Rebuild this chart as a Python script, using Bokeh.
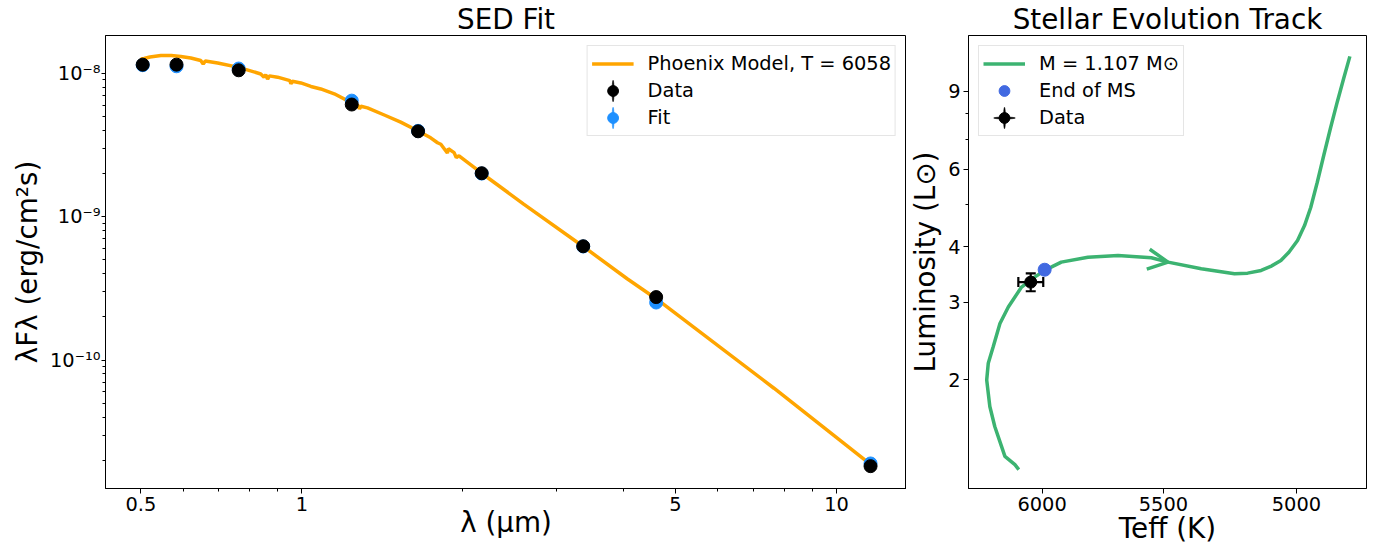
import math
from bokeh.plotting import figure
from bokeh.layouts import row
from bokeh.models import (Range1d, FixedTicker, CustomJSTickFormatter, Legend, LegendItem,
                          Arrow, OpenHead, Whisker, TeeHead, ColumnDataSource)
from bokeh.core.properties import value
from bokeh.embed import file_html
from bokeh.resources import INLINE

FONT = "DejaVu Sans"
TICK_SIZE = "19.4px"
BIG_SIZE = "27.8px"

# ---------------- SED data ----------------
band_wl = [0.504, 0.583, 0.762, 1.24, 1.65, 2.17, 3.36, 4.60, 11.58]
data_flux = [1.15e-8, 1.15e-8, 1.05e-8, 6.06e-9, 3.94e-9, 2.01e-9, 6.22e-10, 2.75e-10, 1.82e-11]
fit_flux = [1.14e-8, 1.12e-8, 1.08e-8, 6.45e-9, 3.97e-9, 2.00e-9, 6.20e-10, 2.52e-10, 1.90e-11]

model_wl = [0.500, 0.507, 0.520, 0.545, 0.570, 0.594, 0.620, 0.647, 0.654, 0.660, 0.696,
            0.762, 0.838, 0.850, 0.856, 0.863, 0.870, 0.901, 0.950, 0.954, 0.960, 0.996,
            1.040, 1.085, 1.150, 1.240, 1.275, 1.282, 1.290, 1.327, 1.430, 1.531, 1.650,
            1.742, 1.794, 1.820, 1.872, 1.880, 1.927, 1.945, 1.968, 2.170, 2.600, 3.360,
            4.060, 4.600, 7.640, 11.58]
model_flux = [1.26e-8, 1.27e-8, 1.30e-8, 1.33e-8, 1.33e-8, 1.31e-8, 1.28e-8, 1.23e-8, 1.16e-8,
              1.22e-8, 1.18e-8, 1.10e-8, 9.9e-9, 9.4e-9, 9.8e-9, 9.1e-9, 9.6e-9, 9.4e-9,
              8.9e-9, 8.45e-9, 8.8e-9, 8.57e-9, 8.1e-9, 7.78e-9, 7.2e-9, 6.22e-9, 5.95e-9,
              5.65e-9, 5.9e-9, 5.74e-9, 5.1e-9, 4.57e-9, 3.96e-9, 3.55e-9, 3.28e-9, 3.20e-9,
              2.78e-9, 2.98e-9, 2.80e-9, 2.58e-9, 2.66e-9, 2.01e-9, 1.225e-9, 6.2e-10,
              3.69e-10, 2.68e-10, 6.36e-11, 1.87e-11]

SED_XRANGE = (0.4294, 13.52)
SED_YRANGE = (1.271e-11, 1.836e-8)
SED_XTICKS = [0.5, 1, 5, 10]
SED_XTICK_LABELS = ["0.5", "1", "5", "10"]
SED_XMINOR = [0.6, 0.7, 0.8, 0.9, 2, 3, 4, 6, 7, 8, 9]
SED_YTICKS = [1e-10, 1e-9, 1e-8]
SED_YTICK_LABELS = ["10\u207b\u00b9\u2070", "10\u207b\u2079", "10\u207b\u2078"]
SED_YMINOR = [2e-11, 3e-11, 4e-11, 5e-11, 6e-11, 7e-11, 8e-11, 9e-11,
              2e-10, 3e-10, 4e-10, 5e-10, 6e-10, 7e-10, 8e-10, 9e-10,
              2e-9, 3e-9, 4e-9, 5e-9, 6e-9, 7e-9, 8e-9, 9e-9]

# ---------------- Evolution track data ----------------
track_T = [6101, 6118, 6162, 6177, 6207, 6229, 6243, 6236, 6214, 6184, 6147, 6089, 6032, 5989,
           5918, 5806, 5682, 5548, 5482, 5353, 5227, 5178, 5128, 5093, 5056, 5027, 4996, 4971,
           4949, 4926, 4902, 4879, 4855, 4833, 4812]
track_L = [1.254, 1.287, 1.344, 1.415, 1.570, 1.742, 2.000, 2.182, 2.377, 2.685, 2.926, 3.245,
           3.418, 3.539, 3.695, 3.792, 3.825, 3.780, 3.695, 3.570, 3.478, 3.489, 3.539, 3.613,
           3.727, 3.891, 4.135, 4.470, 4.913, 5.594, 6.481, 7.440, 8.545, 9.644, 10.79]
ms_end_T = [5989]
ms_end_L = [3.552]
star_T = [6049]
star_T_err = [54]
star_L = [3.330]
star_L_err = [0.155]
arrow_T = [5561, 5482]
arrow_L = [3.753, 3.695]

HR_XRANGE = (6325, 4755)
HR_YRANGE = (1.1366, 12.03)
HR_XTICKS = [6000, 5500, 5000]
HR_XTICK_LABELS = ["6000", "5500", "5000"]
HR_YTICKS = [2, 3, 4, 6, 9]
HR_YTICK_LABELS = ["2", "3", "4", "6", "9"]
HR_YMINOR = [5, 7, 8]

ORANGE = "#FFA500"
FITBLUE = "#1E90FF"
GREEN = "#3CB371"
ROYAL = "#4169E1"

NAN = [float("nan")]


def lookup_formatter(tick_values, tick_labels):
    return CustomJSTickFormatter(args=dict(tv=tick_values, tl=tick_labels), code="""
        for (let i = 0; i < tv.length; i++) {
            if (Math.abs(tv[i] - tick) <= 1e-6 * Math.abs(tv[i])) { return tl[i]; }
        }
        return "";
    """)


def style_axis(ax, label, tick_out=5, standoff=3, label_standoff=3):
    ax.axis_line_color = "black"
    ax.axis_line_width = 1
    ax.major_tick_line_color = "black"
    ax.major_tick_line_width = 1
    ax.minor_tick_line_color = "black"
    ax.minor_tick_line_width = 1
    ax.major_tick_in = 0
    ax.major_tick_out = tick_out
    ax.minor_tick_in = 0
    ax.minor_tick_out = 3
    ax.major_label_text_font = FONT
    ax.major_label_text_font_size = TICK_SIZE
    ax.major_label_text_color = "black"
    ax.major_label_standoff = standoff
    ax.axis_label = label
    ax.axis_label_text_font = FONT
    ax.axis_label_text_font_size = BIG_SIZE
    ax.axis_label_text_font_style = "normal"
    ax.axis_label_text_color = "black"
    ax.axis_label_standoff = label_standoff


def base_style(p, title):
    p.xgrid.visible = False
    p.ygrid.visible = False
    p.outline_line_color = "black"
    p.outline_line_width = 1
    p.outline_line_alpha = 1
    p.background_fill_color = "white"
    p.border_fill_color = "white"
    p.title.text = title
    p.title.align = "center"
    p.title.text_font = FONT
    p.title.text_font_size = BIG_SIZE
    p.title.text_font_style = "normal"
    p.title.text_color = "black"
    p.title.standoff = 0
    p.title.offset = 0


def make_legend(items, location):
    return Legend(items=items, location=location, margin=10, padding=4, spacing=0,
                  glyph_height=27, label_height=27, glyph_width=42, label_standoff=14,
                  label_text_font=FONT, label_text_font_size=TICK_SIZE, label_text_color="black",
                  border_line_color="#cccccc", border_line_width=1, background_fill_color="white",
                  background_fill_alpha=0.8)


# ================= SED figure =================
p1 = figure(width=906, height=547, x_axis_type="log", y_axis_type="log",
            x_range=Range1d(*SED_XRANGE), y_range=Range1d(*SED_YRANGE),
            output_backend="svg", toolbar_location=None,
            min_border_left=105, min_border_right=0, min_border_top=34, min_border_bottom=58)
base_style(p1, "SED Fit")
p1.xaxis.ticker = FixedTicker(ticks=SED_XTICKS, minor_ticks=SED_XMINOR)
p1.xaxis.formatter = lookup_formatter(SED_XTICKS, SED_XTICK_LABELS)
p1.yaxis.ticker = FixedTicker(ticks=SED_YTICKS, minor_ticks=SED_YMINOR)
p1.yaxis.formatter = lookup_formatter(SED_YTICKS, SED_YTICK_LABELS)
style_axis(p1.xaxis[0], "\u03bb (\u03bcm)", tick_out=5, standoff=3, label_standoff=-8)
style_axis(p1.yaxis[0], "\u03bbF\u03bb (erg/cm\u00b2s)", tick_out=4, standoff=1, label_standoff=3)

r_model = p1.line(model_wl, model_flux, line_color=ORANGE, line_width=3.5)
r_fit = p1.scatter(band_wl, fit_flux, size=13, marker="circle", fill_color=FITBLUE, line_color=FITBLUE)
r_data = p1.scatter(band_wl, data_flux, size=13, marker="circle", fill_color="black", line_color="black")
# legend-only error-bar proxies (not drawn in the plot area)
r_data_bar = p1.ellipse(x=NAN, y=NAN, width=2, height=22, width_units="screen", height_units="screen",
                        fill_color="black", line_color="black", line_width=0.5)
r_fit_bar = p1.ellipse(x=NAN, y=NAN, width=2, height=22, width_units="screen", height_units="screen",
                       fill_color=FITBLUE, line_color=FITBLUE, line_width=0.5)

p1.add_layout(make_legend([
    LegendItem(label=value("Phoenix Model, T = 6058"), renderers=[r_model]),
    LegendItem(label=value("Data"), renderers=[r_data_bar, r_data]),
    LegendItem(label=value("Fit"), renderers=[r_fit_bar, r_fit]),
], "top_right"))

# ================= HR figure =================
p2 = figure(width=473, height=547, x_axis_type="log", y_axis_type="log",
            x_range=Range1d(*HR_XRANGE), y_range=Range1d(*HR_YRANGE),
            output_backend="svg", toolbar_location=None,
            min_border_left=61, min_border_right=13, min_border_top=34, min_border_bottom=58)
base_style(p2, "Stellar Evolution Track")
p2.xaxis.ticker = FixedTicker(ticks=HR_XTICKS, minor_ticks=[])
p2.xaxis.formatter = lookup_formatter(HR_XTICKS, HR_XTICK_LABELS)
p2.yaxis.ticker = FixedTicker(ticks=HR_YTICKS, minor_ticks=HR_YMINOR)
p2.yaxis.formatter = lookup_formatter(HR_YTICKS, HR_YTICK_LABELS)
style_axis(p2.xaxis[0], "Teff (K)", tick_out=5, standoff=3, label_standoff=-2)
style_axis(p2.yaxis[0], "Luminosity (L\u2299)", tick_out=5, standoff=3, label_standoff=3)

r_track = p2.line(track_T, track_L, line_color=GREEN, line_width=3.5)
p2.add_layout(Arrow(end=OpenHead(size=20, line_color=GREEN, line_width=3.5),
                    x_start=arrow_T[0], y_start=arrow_L[0], x_end=arrow_T[1], y_end=arrow_L[1],
                    line_alpha=0, line_width=0))
r_ms = p2.scatter(ms_end_T, ms_end_L, size=13, marker="circle", fill_color=ROYAL, line_color=ROYAL)

star_src = ColumnDataSource(dict(
    T=star_T, L=star_L,
    T_lo=[t - e for t, e in zip(star_T, star_T_err)], T_hi=[t + e for t, e in zip(star_T, star_T_err)],
    L_lo=[l - e for l, e in zip(star_L, star_L_err)], L_hi=[l + e for l, e in zip(star_L, star_L_err)],
))
r_star = p2.scatter("T", "L", source=star_src, size=12, marker="circle", fill_color="black", line_color="black")
for base, lo, hi, dim in (("L", "T_lo", "T_hi", "width"), ("T", "L_lo", "L_hi", "height")):
    p2.add_layout(Whisker(source=star_src, base=base, lower=lo, upper=hi, dimension=dim,
                          line_color="black", line_width=2.2, level="overlay",
                          upper_head=TeeHead(size=10, line_color="black", line_width=2.2),
                          lower_head=TeeHead(size=10, line_color="black", line_width=2.2)))
r_star_h = p2.ellipse(x=NAN, y=NAN, width=22, height=2, width_units="screen", height_units="screen",
                      fill_color="black", line_color="black", line_width=0.5)
r_star_v = p2.ellipse(x=NAN, y=NAN, width=2, height=22, width_units="screen", height_units="screen",
                      fill_color="black", line_color="black", line_width=0.5)

p2.add_layout(make_legend([
    LegendItem(label=value("M = 1.107 M\u2299"), renderers=[r_track]),
    LegendItem(label=value("End of MS"), renderers=[r_ms]),
    LegendItem(label=value("Data"), renderers=[r_star_h, r_star_v, r_star]),
], "top_left"))

layout = row(p1, p2)
open("out.html", "w").write(file_html(layout, INLINE))
